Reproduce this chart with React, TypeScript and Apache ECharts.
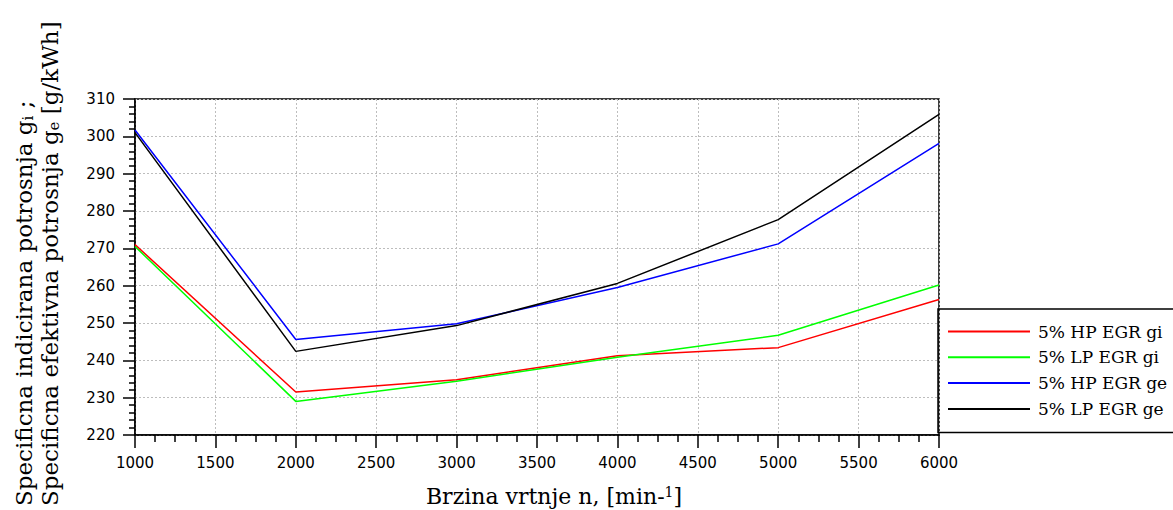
import React, { useEffect, useRef } from "react";
import * as echarts from "echarts";

const rpm = [1000, 2000, 3000, 4000, 5000, 6000];
const hpGi = [271, 231.5, 234.8, 241.2, 243.4, 256.3];
const lpGi = [270.5, 229, 234.4, 240.8, 246.7, 260.2];
const hpGe = [301.7, 245.6, 249.8, 259.5, 271.2, 298.1];
const lpGe = [301, 242.4, 249.3, 260.6, 277.7, 305.9];

const seriesNames = ["5% HP EGR gi", "5% LP EGR gi", "5% HP EGR ge", "5% LP EGR ge"];
const seriesColors = ["#ff0000", "#00ff00", "#0000ff", "#000000"];
const seriesValues = [hpGi, lpGi, hpGe, lpGe];

const xTitle = "Brzina vrtnje n, [min-{sup|1}]";
const yTitle1 = "Specificna indicirana potrosnja g{sub|i} ;";
const yTitle2 = "Specificna efektivna potrosnja g{sub|e} [g/kWh]";

export default function App() {
  const ref = useRef<HTMLDivElement>(null);
  useEffect(() => {
    if (!ref.current) return;
    const chart = echarts.init(ref.current, null, { renderer: "svg" });
    const serif = "DejaVu Serif";
    const sans = "DejaVu Sans";
    chart.setOption({
      animation: false,
      backgroundColor: "#ffffff",
      grid: {
        left: 135,
        right: 234,
        top: 99,
        bottom: 75,
        show: true,
        borderColor: "#000",
        borderWidth: 1.5,
      },
      legend: {
        orient: "vertical",
        left: 938,
        top: 309,
        padding: [14, 40, 15, 10],
        icon: "rect",
        itemWidth: 82,
        itemHeight: 2,
        itemGap: 8.8,
        borderColor: "#000",
        borderWidth: 1.5,
        data: seriesNames,
        textStyle: {
          fontFamily: serif,
          fontSize: 17,
          color: "#000",
          lineHeight: 17,
          padding: [0, 0, 0, 3],
        },
      },
      xAxis: {
        type: "value",
        min: 1000,
        max: 6000,
        interval: 500,
        axisLine: { lineStyle: { color: "#000", width: 1.5 } },
        axisTick: { show: true, length: 13, lineStyle: { color: "#000", width: 1.5 } },
        minorTick: { show: true, splitNumber: 4, length: 7, lineStyle: { color: "#000", width: 1.5 } },
        axisLabel: {
          fontFamily: sans,
          fontSize: 15,
          color: "#000",
          margin: 20,
          formatter: (v: number) => String(v),
        },
        splitLine: { show: true, lineStyle: { color: "#bdbdbd", type: [2, 2], width: 1 } },
      },
      yAxis: {
        type: "value",
        min: 220,
        max: 310,
        interval: 10,
        axisLine: { show: true, lineStyle: { color: "#000", width: 1.5 } },
        axisTick: { show: true, length: 12, lineStyle: { color: "#000", width: 1.5 } },
        minorTick: { show: true, splitNumber: 5, length: 6, lineStyle: { color: "#000", width: 1.5 } },
        axisLabel: {
          fontFamily: sans,
          fontSize: 15,
          color: "#000",
          margin: 20,
          formatter: (v: number) => String(v),
        },
        splitLine: { show: true, lineStyle: { color: "#bdbdbd", type: [2, 2], width: 1 } },
      },
      series: seriesNames.map((name, i) => ({
        name,
        type: "line",
        symbol: "none",
        color: seriesColors[i],
        lineStyle: { color: seriesColors[i], width: 1.5 },
        data: rpm.map((x, j) => [x, seriesValues[i][j]]),
      })),
      graphic: [
        {
          type: "text",
          x: 554,
          y: 496,
          style: {
            text: xTitle,
            fontFamily: serif,
            fontSize: 22,
            fill: "#000",
            textAlign: "center",
            textVerticalAlign: "middle",
            rich: { sup: { fontFamily: serif, fontSize: 14, verticalAlign: "top", fill: "#000" } },
          },
        },
        {
          type: "text",
          x: 24,
          y: 506,
          rotation: Math.PI / 2,
          style: {
            text: yTitle1,
            fontFamily: serif,
            fontSize: 23,
            fill: "#000",
            textAlign: "left",
            textVerticalAlign: "middle",
            rich: { sub: { fontFamily: serif, fontSize: 15, verticalAlign: "bottom", fill: "#000" } },
          },
        },
        {
          type: "text",
          x: 50,
          y: 506,
          rotation: Math.PI / 2,
          style: {
            text: yTitle2,
            fontFamily: serif,
            fontSize: 23,
            fill: "#000",
            textAlign: "left",
            textVerticalAlign: "middle",
            rich: { sub: { fontFamily: serif, fontSize: 15, verticalAlign: "bottom", fill: "#000" } },
          },
        },
      ],
    });
    return () => chart.dispose();
  }, []);
  return (
    <div
      ref={ref}
      style={{ position: "fixed", left: 0, top: 0, width: 1173, height: 510, background: "#fff" }}
    />
  );
}
